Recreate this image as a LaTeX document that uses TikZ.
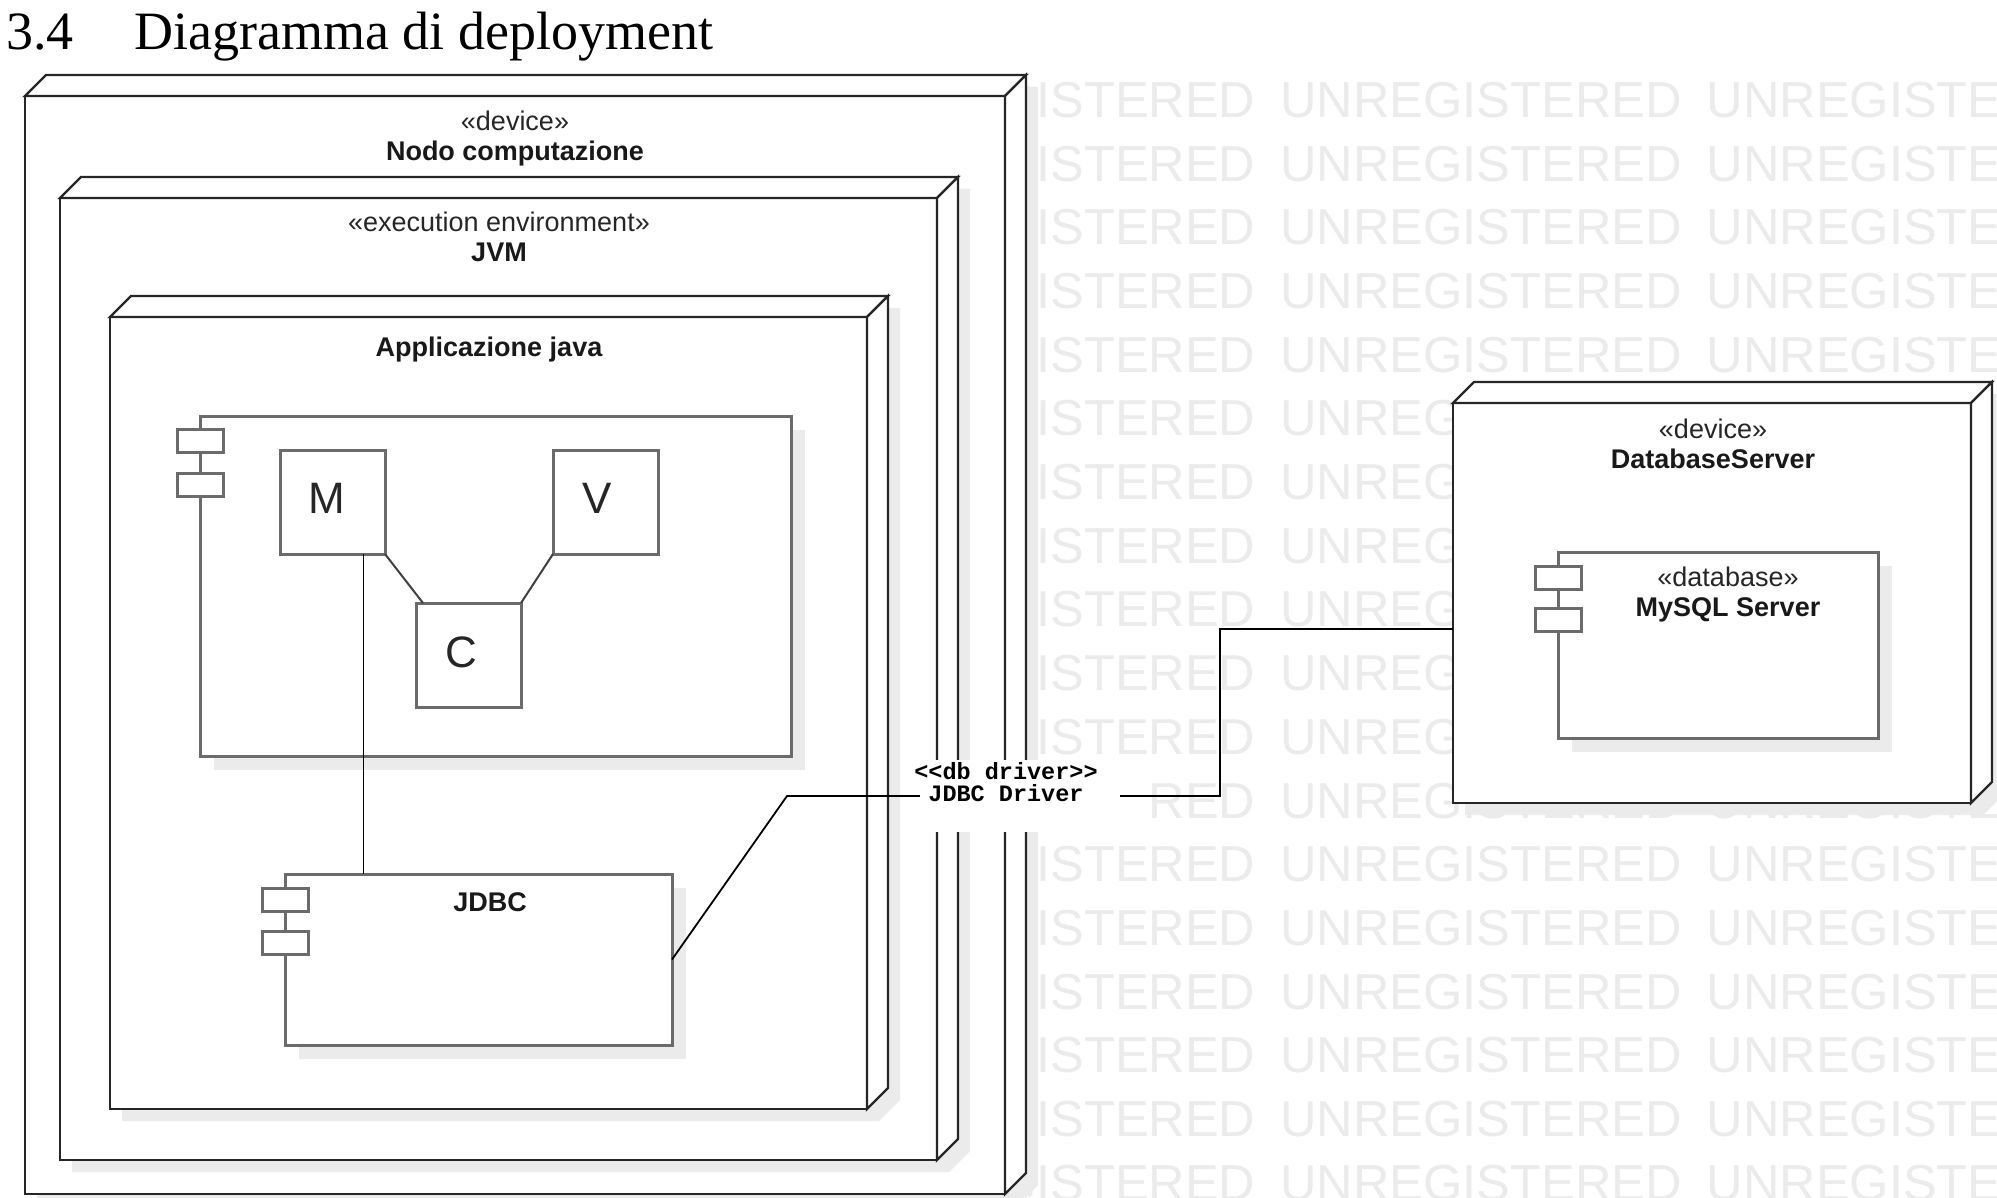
\documentclass[tikz,border=0pt]{standalone}
\usepackage{fontspec}
\setmainfont{Liberation Sans}
\newfontfamily\serifttl{Liberation Serif}
\newfontfamily\markfont{Liberation Sans}
\newfontfamily\drvfont{Liberation Mono}
\usetikzlibrary{calc,shadows}

\tikzset{
  devline/.style={draw=black!85, line width=2.4pt, line join=miter},
  devface/.style={devline, fill=white, inner sep=0pt, outer sep=0pt},
  devshade/.style={fill=black!8},
  compbody/.style={draw=black!58, line width=3pt, fill=white, inner sep=0pt, outer sep=0pt,
    drop shadow={shadow xshift=14pt, shadow yshift=-14pt, fill=black!8, opacity=1}},
  port/.style={draw=black!58, line width=3pt, fill=white, minimum width=46pt,
    minimum height=23pt, inner sep=0pt, outer sep=0pt},
  letterbox/.style={draw=black!58, line width=3pt, fill=white, minimum width=105pt,
    minimum height=104pt, inner sep=0pt, outer sep=0pt},
  stereo/.style={font=\fontsize{27}{30}\selectfont, text=black!85, inner sep=0pt, anchor=base},
  nodename/.style={font=\bfseries\fontsize{27}{30}\selectfont, text=black!90, inner sep=0pt, anchor=base},
  bigletter/.style={font=\fontsize{44}{44}\selectfont, text=black!85, inner sep=0pt, anchor=base},
  conn/.style={draw=black, line width=1.8pt},
  mvcconn/.style={draw=black!75, line width=2pt},
  wmtext/.style={font=\markfont\fontsize{50.5}{51}\selectfont, text=black!8, inner sep=0pt},
  drvtext/.style={font=\drvfont\bfseries\fontsize{23.5}{22}\selectfont, align=center, inner sep=0pt},
  titletext/.style={font=\serifttl\fontsize{54}{60}\selectfont, anchor=base west, inner sep=0pt}
}

% 3D UML node: name, left, top, right, bottom of the front face
\newcommand\drawdevice[5]{%
  \fill[devshade, shift={(12,12)}] (#2,#3) -- (#2+21,#3-21) -- (#4+21,#3-21)
    -- (#4+21,#5-21) -- (#4,#5) -- (#2,#5) -- cycle;
  \node[devface, anchor=north west, minimum width={(#4-#2)*1pt},
    minimum height={(#5-#3)*1pt}] (#1) at (#2,#3) {};
  \filldraw[devface] (#1.north west) -- ++(21,-21) -- ($(#1.north east)+(21,-21)$)
    -- (#1.north east) -- cycle;
  \filldraw[devface] (#1.north east) -- ++(21,-21) -- ($(#1.south east)+(21,-21)$)
    -- (#1.south east) -- cycle;
}

\begin{document}
\begin{tikzpicture}[x=1pt, y=-1pt]
\fill[white] (0,0) rectangle (1997,1198);
\useasboundingbox (0,0) rectangle (1997,1198);

% section heading
\node[titletext] (secnum) at (6,50) {3.4};
\node[titletext] (sectitle) at (134,50) {Diagramma di deployment};

% background watermark rows
\begin{scope}
  \clip (1028,60) rectangle (1997,1198);
  \foreach \r in {0,...,17} {
    \node[wmtext, anchor=west] (wm\r) at (854,{100+63.7*\r})
      {UNREGISTERED\hspace{25pt}UNREGISTERED\hspace{25pt}UNREGISTERED};
  }
\end{scope}

% computation node, JVM and application
\drawdevice{nodo}{25}{96}{1005}{1194}
\node[stereo] (nodo-st) at (515,131) {«device»};
\node[nodename] (nodo-nm) at (515,161) {Nodo computazione};

\drawdevice{jvm}{60}{198}{937}{1160}
\node[stereo] (jvm-st) at (499,232) {«execution environment»};
\node[nodename] (jvm-nm) at (499,262) {JVM};

\drawdevice{app}{110}{317}{867}{1109}
\node[nodename] (app-nm) at (489,356) {Applicazione java};

% MVC component
\node[compbody, anchor=north west, minimum width=591pt, minimum height=340pt] (mvc) at (200,416) {};
\node[port] (mvc-p1) at ($(mvc.north west)+(0,25)$) {};
\node[port] (mvc-p2) at ($(mvc.north west)+(0,68.5)$) {};

\node[letterbox, anchor=north west] (M) at (280,450) {};
\node[letterbox, anchor=north west] (V) at (553,450) {};
\node[letterbox, anchor=north west] (C) at (416,603) {};
\node[bigletter] (m-txt) at (327,513) {M};
\node[bigletter] (v-txt) at (597,513) {V};
\node[bigletter] (c-txt) at (461,667) {C};
\draw[mvcconn] (M.south east) -- ([xshift=7pt]C.north west);
\draw[mvcconn] (V.south west) -- (C.north east);

% JDBC component
\node[compbody, anchor=north west, minimum width=387pt, minimum height=171pt] (jdbc) at (285,874) {};
\node[port] (jdbc-p1) at ($(jdbc.north west)+(0,26)$) {};
\node[port] (jdbc-p2) at ($(jdbc.north west)+(0,68.5)$) {};
\node[nodename] (jdbc-nm) at (490,911) {JDBC};

% database server
\drawdevice{db}{1453}{403}{1971}{803}
\node[stereo] (db-st) at (1713,438) {«device»};
\node[nodename] (db-nm) at (1713,468) {DatabaseServer};

\node[compbody, anchor=north west, minimum width=320pt, minimum height=186pt] (mysql) at (1558,552) {};
\node[port] (mysql-p1) at ($(mysql.north west)+(0,25.5)$) {};
\node[port] (mysql-p2) at ($(mysql.north west)+(0,68)$) {};
\node[stereo] (mysql-st) at (1728,586) {«database»};
\node[nodename] (mysql-nm) at (1728,616) {MySQL Server};

% connectors
\draw[conn] ([xshift=31pt]M.south) -- ([xshift=31pt]M.south |- jdbc.north);

\node[fill=white, minimum width=228pt, minimum height=72pt, inner sep=0pt] (drvbg) at (1034,796) {};
\node[drvtext] (drv) at (1006,782) {<\kern0pt<db driver>\kern0pt>\\JDBC Driver};

\coordinate (bend1) at (787,796);
\coordinate (drvout) at (1120,796);
\draw[conn] (jdbc.east) -- (bend1) -- (drvbg.west);
\draw[conn] (drvout) -- ++(100,0) |- ([yshift=-26pt]db.west);
\end{tikzpicture}
\end{document}
